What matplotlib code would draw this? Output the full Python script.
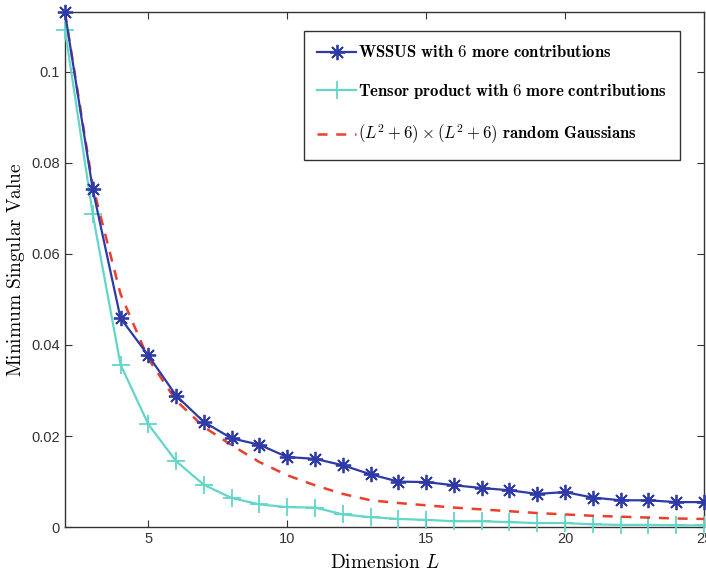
import matplotlib
matplotlib.use('Agg')
import matplotlib.pyplot as plt
import numpy as np

plt.rcParams['mathtext.fontset'] = 'cm'
plt.rcParams['font.family'] = 'Liberation Sans'

dims = np.arange(2, 26)

# minimum singular values per dimension L
wssus = [0.1130, 0.0742, 0.0459, 0.0377, 0.0289, 0.0231, 0.0195, 0.0181,
         0.0154, 0.0150, 0.0136, 0.0116, 0.0100, 0.0099, 0.0092, 0.0086,
         0.0081, 0.0073, 0.0077, 0.0065, 0.0059, 0.0059, 0.0055, 0.0055]
tensor = [0.1092, 0.0687, 0.0357, 0.0226, 0.0145, 0.0093, 0.0064, 0.0050,
          0.0044, 0.0043, 0.0028, 0.0022, 0.0018, 0.0016, 0.0013, 0.0013,
          0.0011, 0.0009, 0.0009, 0.0006, 0.0005, 0.0005, 0.0004, 0.0004]
gauss = [0.1130, 0.0750, 0.0512, 0.0370, 0.0278, 0.0220, 0.0180, 0.0143,
         0.0114, 0.0092, 0.0073, 0.0059, 0.0053, 0.0048, 0.0043, 0.0039,
         0.0035, 0.0031, 0.0028, 0.0025, 0.0023, 0.0021, 0.0019, 0.0018]

fig = plt.figure(figsize=(7.06, 5.73), dpi=100)
ax = fig.add_axes([0.092, 0.080, 0.905, 0.899])

# asterisk marker like MATLAB's '*' (plus and cross together)
ax.plot(dims, wssus, color='#2e3aa6', lw=1.6, marker=(8, 2, 0), ms=11, mew=1.3,
        clip_on=False, zorder=4,
        label=r'$\mathbf{WSSUS\ with\ 6\ more\ contributions}$')
ax.plot(dims, tensor, color='#62d6c8', lw=1.6, marker='+', ms=13, mew=1.3,
        clip_on=False, zorder=3,
        label=r'$\mathbf{Tensor\ product\ with\ 6\ more\ contributions}$')
ax.plot(dims, gauss, color='#e8402c', lw=1.8, ls=(0, (4, 3.5)), zorder=3,
        label=r'$(L^2+6)\times(L^2+6)\ \mathbf{random\ Gaussians}$')

ax.set_xlim(2, 25)
ax.set_ylim(0, 0.1131)
ax.set_xticks([5, 10, 15, 20, 25])
ax.set_yticks([0, 0.02, 0.04, 0.06, 0.08, 0.1])
ax.set_yticklabels(['0', '0.02', '0.04', '0.06', '0.08', '0.1'])
ax.tick_params(direction='in', top=True, right=True, labelsize=10.5,
               colors='#333333', length=5)
for s in ax.spines.values():
    s.set_color('#333333')
    s.set_linewidth(1.0)

ax.set_xlabel(r'$\mathrm{Dimension}\ L$', fontsize=14, labelpad=6)
ax.set_ylabel(r'$\mathrm{Minimum\ Singular\ Value}$', fontsize=14, labelpad=3)

leg = ax.legend(loc='upper right', bbox_to_anchor=(0.9626, 0.963), fontsize=12,
                handlelength=2.3, handletextpad=0.15, labelspacing=1.3,
                borderpad=0.8, borderaxespad=0, fancybox=False, framealpha=1)
leg.get_frame().set_edgecolor('#333333')
leg.get_frame().set_linewidth(1.0)

plt.savefig('out.png', dpi=100)
